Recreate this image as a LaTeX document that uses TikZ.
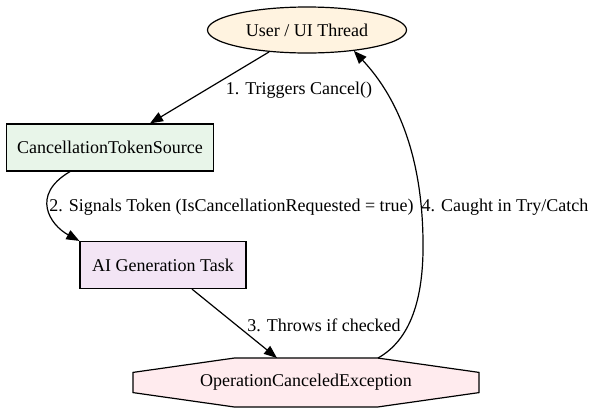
\documentclass[tikz,border=0pt]{standalone}
\usepackage{fontspec}
\setmainfont{Liberation Serif}
\newfontfamily\lserif{Liberation Serif}
\usetikzlibrary{arrows.meta,calc,shapes.geometric}
\definecolor{ufill}{HTML}{FFF3E0}
\definecolor{cfill}{HTML}{E8F5E9}
\definecolor{afill}{HTML}{F3E5F5}
\definecolor{ofill}{HTML}{FFEBEE}
\begin{document}
\begin{tikzpicture}[x=1pt,y=-1pt,
  every node/.style={font=\lserif\fontsize{18}{21}\selectfont, inner sep=0pt},
  boxnode/.style={draw, line width=1.2pt, rectangle, minimum height=47pt},
  arr/.style={line width=1.2pt, -{Triangle[length=13pt,width=10pt]}},
  lbl/.style={anchor=center}]
\useasboundingbox (0,0) rectangle (594,413);
\node[draw, ellipse, fill=ufill, line width=1.2pt, minimum width=199pt, minimum height=46pt] (u) at (307,30) {User / UI Thread};
\node[boxnode, fill=cfill, minimum width=207pt] (cts) at (110,147.5) {CancellationTokenSource};
\node[boxnode, fill=afill, minimum width=166pt] (ai) at (163,265) {AI Generation Task};
\coordinate (oc) at (306,382.5);
\filldraw[fill=ofill, line width=1.2pt] ($(oc)+(-71.5,-24.5)$) -- ($(oc)+(71.5,-24.5)$) -- ($(oc)+(173,-10.1)$) -- ($(oc)+(173,10.1)$) -- ($(oc)+(71.5,24.5)$) -- ($(oc)+(-71.5,24.5)$) -- ($(oc)+(-173,10.1)$) -- ($(oc)+(-173,-10.1)$) -- cycle;
\node (oce) at (oc) {OperationCanceledException};
\node[lbl] (l1) at (299,90) {1. Triggers Cancel()};
\node[lbl] (l2) at (231.5,207) {2. Signals Token (IsCancellationRequested = true)};
\node[lbl] (l3) at (324,325) {3. Throws if checked};
\node[lbl] (l4) at (505,207) {4. Caught in Try/Catch};
\draw[arr] (u.210) -- ($(cts.north)+(40,0)$);
\draw[arr] ($(cts.south)+(-40,0)$) .. controls (30,195) and (50,225) .. (ai.north west);
\draw[arr] ($(ai.south)+(29,0)$) -- ($(oc)+(-29,-24.5)$);
\draw[arr] ($(oc)+(72,-24.5)$) .. controls (410,340) and (424,300) .. (423,240) .. controls (422,160) and (400,100) .. (u.336);
\end{tikzpicture}
\end{document}
